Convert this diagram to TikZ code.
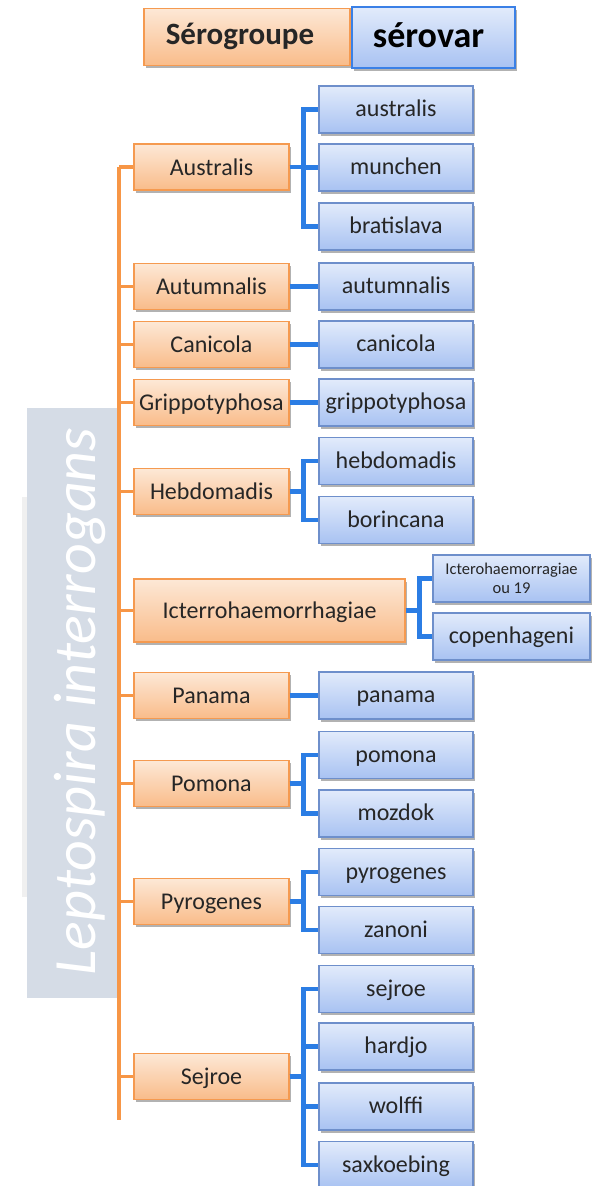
\documentclass[tikz,border=0pt]{standalone}
\usepackage{fontspec}
\setmainfont{Carlito}
\usetikzlibrary{shadows}
\definecolor{obord}{HTML}{F59A50}
\definecolor{otop}{HTML}{FDE8D6}
\definecolor{obot}{HTML}{F9BC8A}
\definecolor{bbord}{HTML}{6E8FCB}
\definecolor{btop}{HTML}{E2EBFB}
\definecolor{bbot}{HTML}{A8C2F2}
\definecolor{hbord}{HTML}{3A80E6}
\definecolor{oline}{HTML}{F79646}
\definecolor{bline}{HTML}{2B7DE4}
\definecolor{labgrey}{HTML}{D5DCE6}
\definecolor{txt}{HTML}{262626}
\tikzset{
  shad/.style={drop shadow={shadow xshift=1.5pt,shadow yshift=-2.5pt,fill=black,opacity=0.3}},
  ogbox/.style={shad,draw=obord,line width=1.1pt,top color=otop,bottom color=obot,
    minimum width=155pt,minimum height=46pt,inner sep=0pt,text=txt,
    text height=18pt,text depth=2pt,
    font=\fontsize{24}{28}\selectfont},
  blbox/.style={shad,draw=bbord,line width=1.1pt,top color=btop,bottom color=bbot,
    minimum width=154pt,minimum height=47pt,inner sep=0pt,text=txt,
    text height=17pt,text depth=3pt,
    font=\fontsize{24}{28}\selectfont},
  olink/.style={draw=oline,line width=3.5pt},
  blink/.style={draw=bline,line width=4.2pt},
}
\begin{document}
\begin{tikzpicture}[x=1pt,y=-1pt]
\useasboundingbox (0,0) rectangle (600,1186);
% header
\node[ogbox,minimum width=206pt,minimum height=57pt,text height=21pt,text depth=6pt,font=\bfseries\fontsize{31}{34}\selectfont] (hs) at (247,37) {Sérogroupe\hspace*{14pt}};
\node[blbox,draw=hbord,minimum width=163pt,minimum height=61pt,text height=24pt,text depth=4pt,font=\bfseries\fontsize{36}{38}\selectfont,text=black] (hv) at (433.5,37.5) {sérovar\hspace*{10pt}};
% species label
\fill[black,opacity=0.06] (22,497) rectangle (27,897);
\node[fill=labgrey,minimum width=91pt,minimum height=590pt,inner sep=0pt] (lbox) at (72.5,703) {};
\node[rotate=90,anchor=base,text=white,font=\itshape\fontsize{60}{62}\selectfont,inner sep=0pt] (ltxt) at (95,701.5) {Leptospira interrogans};
% trunk
\coordinate (t0) at (119,167);
\coordinate (t1) at (119,1120);
\draw[olink] (t0) -- (t1);
% serogroups
\node[ogbox] (au) at (211.5,167) {Australis};
\node[ogbox] (at) at (211.5,286.5) {Autumnalis};
\node[ogbox] (ca) at (211.5,344.5) {Canicola};
\node[ogbox] (gr) at (211.5,402.5) {Grippotyphosa};
\node[ogbox] (he) at (211.5,491.5) {Hebdomadis};
\node[ogbox,minimum width=271pt,minimum height=63pt] (ic) at (269.5,610.5) {Icterrohaemorrhagiae};
\node[ogbox] (pa) at (211.5,695.5) {Panama};
\node[ogbox] (po) at (211.5,783.5) {Pomona};
\node[ogbox] (py) at (211.5,901.5) {Pyrogenes};
\node[ogbox] (se) at (211.5,1076.5) {Sejroe};
\foreach \n in {au,at,ca,gr,he,ic,pa,po,py,se}{
  \draw[olink] (t0 |- \n.west) -- (\n.west);
}
% serovars
\node[blbox] (v1) at (396,109.5) {australis};
\node[blbox] (v2) at (396,167.5) {munchen};
\node[blbox] (v3) at (396,226.5) {bratislava};
\node[blbox] (v4) at (396,286.5) {autumnalis};
\node[blbox] (v5) at (396,344.5) {canicola};
\node[blbox] (v6) at (396,402.5) {grippotyphosa};
\node[blbox] (v7) at (396,461) {hebdomadis};
\node[blbox] (v8) at (396,520) {borincana};
\node[blbox,minimum width=157pt,align=center,text height=,text depth=,font=\fontsize{16.5}{18.5}\selectfont] (v9) at (511.5,578.5) {Icterohaemorragiae\\ou 19};
\node[blbox,minimum width=157pt] (v10) at (511.5,636.5) {copenhageni};
\node[blbox] (v11) at (396,695.5) {panama};
\node[blbox] (v12) at (396,755) {pomona};
\node[blbox] (v13) at (396,813.5) {mozdok};
\node[blbox] (v14) at (396,872) {pyrogenes};
\node[blbox] (v15) at (396,930) {zanoni};
\node[blbox] (v16) at (396,989) {sejroe};
\node[blbox] (v17) at (396,1046.5) {hardjo};
\node[blbox] (v18) at (396,1106.5) {wolffi};
\node[blbox] (v19) at (396,1165) {saxkoebing};
% links
\foreach \p/\c in {au/v1,au/v2,au/v3,at/v4,ca/v5,gr/v6,he/v7,he/v8,ic/v9,ic/v10,pa/v11,po/v12,po/v13,py/v14,py/v15,se/v16,se/v17,se/v18,se/v19}{
  \draw[blink] (\p.east) -- ++(14,0) |- (\c.west);
}
\end{tikzpicture}
\end{document}
